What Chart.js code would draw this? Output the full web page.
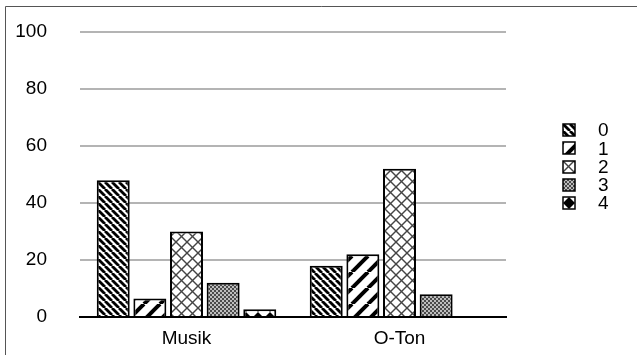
<!DOCTYPE html>
<html>
<head>
<meta charset="utf-8">
<script src="https://cdn.jsdelivr.net/npm/chart.js@4.4.1/dist/chart.umd.min.js"></script>
<style>
  html, body { margin: 0; padding: 0; background: #fff; }
  #wrap { position: relative; width: 637px; height: 355px; }
</style>
</head>
<body>
<div id="wrap">
  <canvas id="barChart" width="637" height="355"></canvas>
</div>
<script type="text/javascript">
  var categories = ["Musik", "O-Ton"];
  var seriesNames = ["0", "1", "2", "3", "4"];
  var series0 = [48, 18];
  var series1 = [6.5, 22];
  var series2 = [30, 52];
  var series3 = [12, 8];
  var series4 = [2.7, 0];
  var yTicks = [0, 20, 40, 60, 80, 100];

  var FONT = "'Liberation Sans', Arial, sans-serif";

  function makePattern(size, draw) {
    var c = document.createElement("canvas");
    c.width = size; c.height = size;
    var g = c.getContext("2d");
    g.fillStyle = "#fff";
    g.fillRect(0, 0, size, size);
    draw(g, size);
    return g.createPattern(c, "repeat");
  }

  var ctx = document.getElementById("barChart").getContext("2d");

  // dense "\" stripes
  var pat0 = makePattern(7, function (g, s) {
    g.strokeStyle = "#000"; g.lineWidth = 2.8;
    for (var k = -1; k <= 1; k++) {
      g.beginPath(); g.moveTo(k * s, 0); g.lineTo(k * s + s, s); g.stroke();
    }
  });
  // wide "/" stripes
  var pat1 = makePattern(16, function (g, s) {
    g.strokeStyle = "#000"; g.lineWidth = 4;
    for (var k = -1; k <= 1; k++) {
      g.beginPath(); g.moveTo(k * s, s); g.lineTo(k * s + s, 0); g.stroke();
    }
  });
  // diagonal crosshatch
  var pat2 = makePattern(11, function (g, s) {
    g.strokeStyle = "#444"; g.lineWidth = 1.4;
    for (var k = -1; k <= 1; k++) {
      g.beginPath(); g.moveTo(k * s, 0); g.lineTo(k * s + s, s); g.stroke();
      g.beginPath(); g.moveTo(k * s, s); g.lineTo(k * s + s, 0); g.stroke();
    }
  });
  // fine checker
  var pat3 = makePattern(4, function (g, s) {
    g.fillStyle = "#bdbdbd"; g.fillRect(0, 0, s, s);
    g.fillStyle = "#4a4a4a";
    g.fillRect(0, 0, 2, 2); g.fillRect(2, 2, 2, 2);
  });
  // big diamonds
  var pat4 = makePattern(12, function (g, s) {
    g.fillStyle = "#000";
    g.beginPath(); g.moveTo(s / 2, 0); g.lineTo(s, s / 2); g.lineTo(s / 2, s); g.lineTo(0, s / 2); g.closePath(); g.fill();
  });

  var patterns = [pat0, pat1, pat2, pat3, pat4];
  var values = [series0, series1, series2, series3, series4];

  var frameAndLegend = {
    id: "frameAndLegend",
    afterDraw: function (chart) {
      var c = chart.ctx;
      c.save();
      c.strokeStyle = "#555";
      c.lineWidth = 1;
      c.beginPath();
      c.moveTo(5.5, 355); c.lineTo(5.5, 6.5); c.lineTo(637, 6.5);
      c.stroke();
      c.font = "19px " + FONT;
      c.textBaseline = "middle";
      chart.data.datasets.forEach(function (ds, i) {
        var y = 130 + i * 18.3;
        c.save();
        c.translate(563, Math.round(y - 6));
        c.fillStyle = ds.backgroundColor;
        c.fillRect(0, 0, 12, 12);
        c.strokeStyle = "#000"; c.lineWidth = 1.5;
        c.strokeRect(0, 0, 12, 12);
        c.restore();
        c.fillStyle = "#000";
        c.fillText(ds.label, 598, y + 1);
      });
      c.restore();
    }
  };

  var chart = new Chart(ctx, {
    type: "bar",
    data: {
      labels: categories,
      datasets: seriesNames.map(function (name, i) {
        return {
          label: name,
          data: values[i],
          backgroundColor: patterns[i],
          borderColor: "#000",
          borderWidth: 2,
          borderSkipped: "bottom",
          categoryPercentage: 0.86,
          barPercentage: 0.9
        };
      })
    },
    options: {
      responsive: false,
      animation: false,
      layout: { padding: { top: 32, right: 131, bottom: 0, left: 0 } },
      plugins: {
        legend: { display: false },
        tooltip: { enabled: false }
      },
      scales: {
        x: {
          grid: { display: false, drawTicks: false },
          border: { display: true, color: "#000", width: 2 },
          ticks: {
            color: "#000", padding: 10,
            font: { family: FONT, size: 19 }
          },
          afterFit: function (scale) { scale.height = 38; }
        },
        y: {
          min: 0, max: 100,
          afterBuildTicks: function (scale) {
            scale.ticks = yTicks.map(function (v) { return { value: v }; });
          },
          grid: { color: "#b4b4b4", lineWidth: 2, drawTicks: false },
          border: { display: false },
          ticks: {
            color: "#000", padding: 33,
            font: { family: FONT, size: 19 }
          },
          afterFit: function (scale) {
            scale.width = 80;
            // ticks.padding would otherwise push the plot top/bottom inward
            scale.paddingTop = 0;
            scale.paddingBottom = 0;
          }
        }
      }
    },
    plugins: [frameAndLegend]
  });
</script>
</body>
</html>
